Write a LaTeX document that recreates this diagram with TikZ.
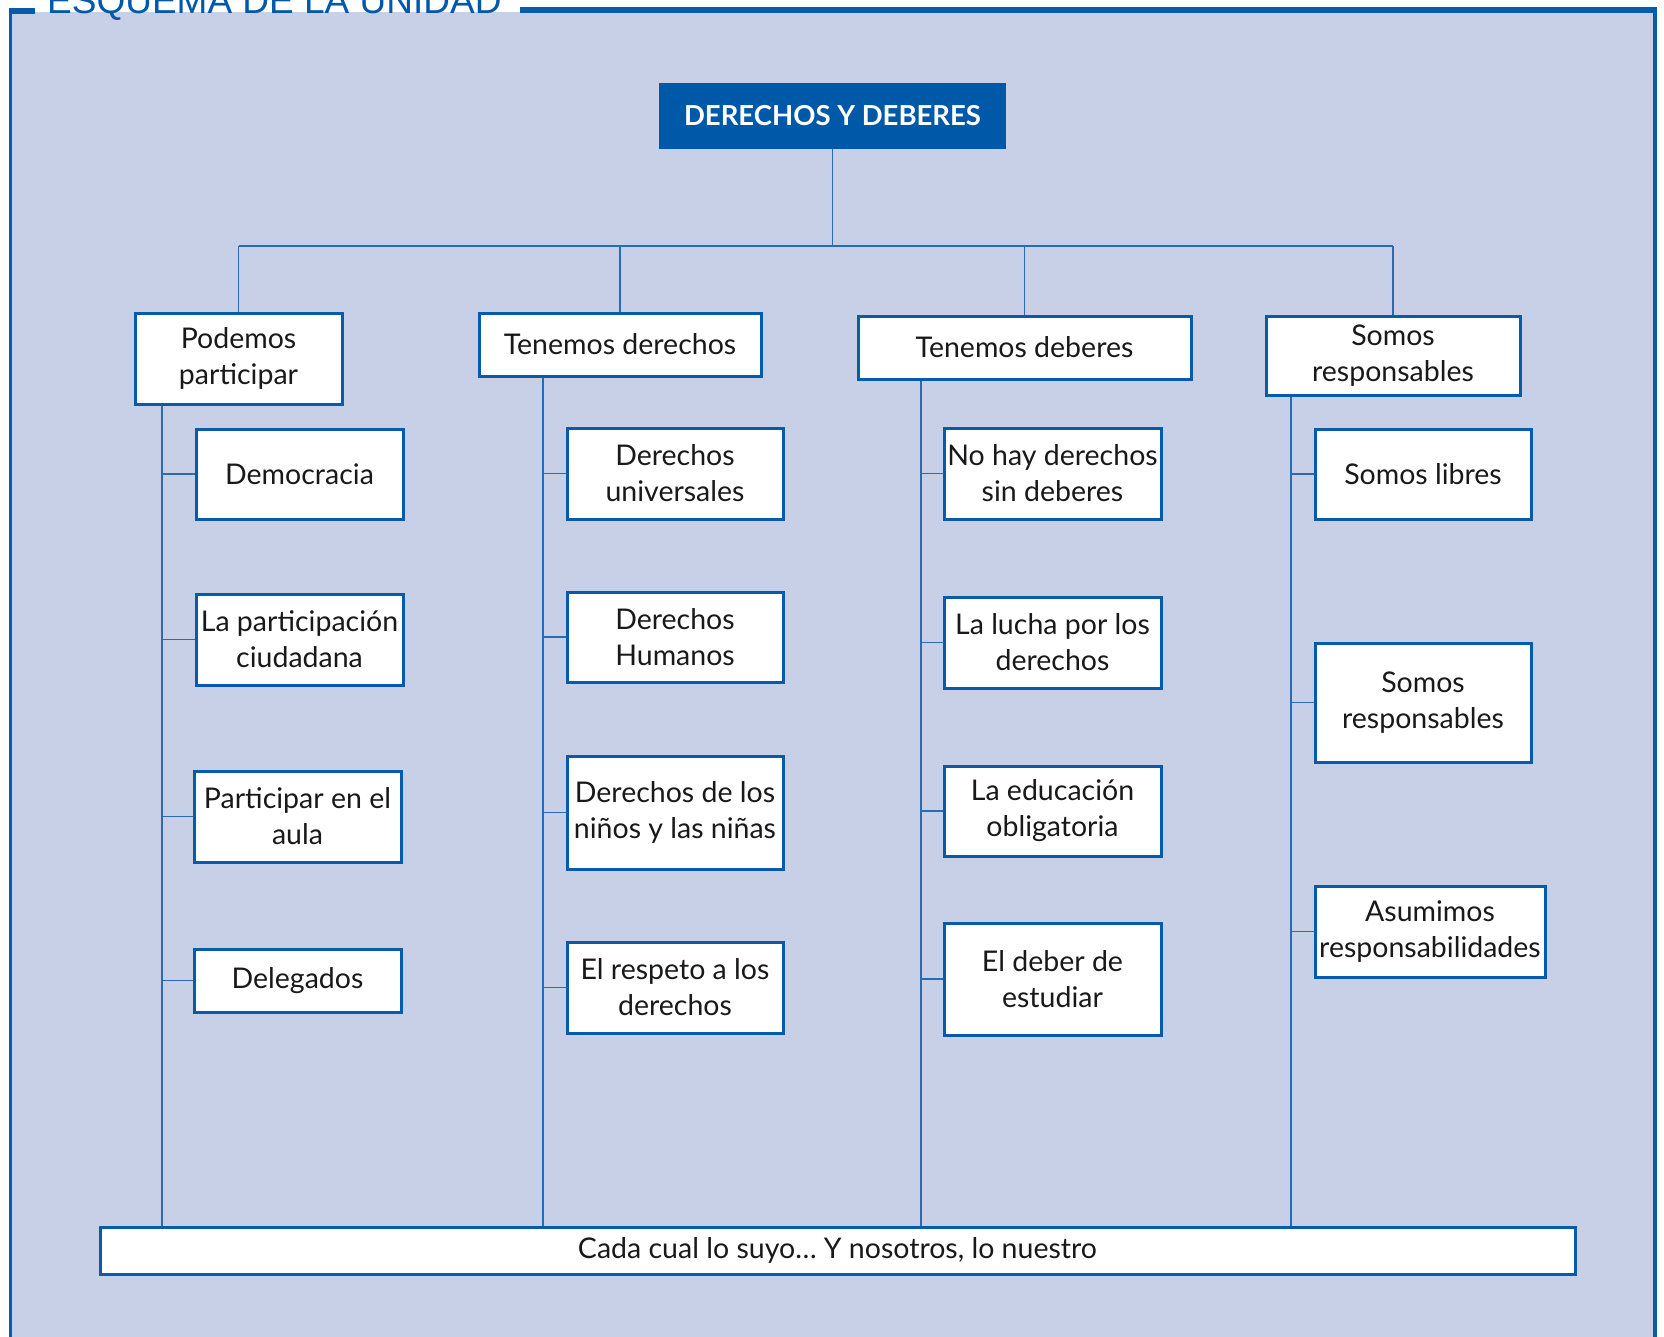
\documentclass[tikz,border=0pt]{standalone}
\usepackage{fontspec}
\setmainfont{Lato}
\newfontfamily\headfont{Liberation Sans}
\definecolor{lav}{RGB}{200,208,232}
\definecolor{bblue}{RGB}{8,90,170}
\definecolor{lblue}{RGB}{40,108,182}
\definecolor{tblue}{RGB}{0,89,168}
\begin{document}
\begin{tikzpicture}[x=1pt,y=-1pt,
  box/.style={draw=bblue, line width=3pt, fill=white, inner sep=0pt, align=center,
    font=\fontsize{28.5}{36}\selectfont, text=black!90},
  conn/.style={draw=lblue, line width=1.6pt},
  titlebox/.style={fill=tblue, inner sep=0pt, text=white, font=\bfseries\fontsize{27.5}{30}\selectfont}]
\useasboundingbox (0,0) rectangle (1664,1336);
\clip (0,0) rectangle (1664,1336);
% frame
\fill[lav] (10,12) rectangle (1655,1340);
\draw[bblue, line width=3.5pt] (10.5,8) -- (10.5,1340);
\draw[bblue, line width=4pt] (1655,8) -- (1655,1340);
\fill[bblue] (520,7) rectangle (1657,13);
\fill[bblue] (9,8) rectangle (35,14);
\node[anchor=base west, inner sep=0pt, text=tblue, font=\headfont\fontsize{37}{37}\selectfont] (head) at (47,13) {ESQUEMA DE LA UNIDAD};
% connector coordinates
\coordinate (bus) at (0,246);
\coordinate (sp1) at (162,0);
\coordinate (sp2) at (543,0);
\coordinate (sp3) at (921,0);
\coordinate (sp4) at (1291,0);
% title
\node[titlebox, minimum width=347, minimum height=66] (title) at (832.5,116) {DERECHOS Y DEBERES};
% level 1
\node[box, minimum width=207, minimum height=91] (h1) at (238.5,358.5) {Podemos\\participar};
\node[box, minimum width=282, minimum height=63] (h2) at (620,344.5) {Tenemos derechos};
\node[box, minimum width=333, minimum height=63] (h3) at (1024.5,347.5) {Tenemos deberes};
\node[box, minimum width=254, minimum height=79] (h4) at (1393,355.5) {Somos\\responsables};
% column 1
\node[box, minimum width=207, minimum height=90] (a1) at (299.5,474) {Democracia};
\node[box, minimum width=207, minimum height=91] (a2) at (299.5,639.5) {La participación\\ciudadana};
\node[box, minimum width=207, minimum height=91] (a3) at (297.5,816.5) {Participar en el\\aula};
\node[box, minimum width=207, minimum height=63] (a4) at (297.5,980.5) {Delegados};
% column 2
\node[box, minimum width=216, minimum height=91] (b1) at (675,473.5) {Derechos\\universales};
\node[box, minimum width=216, minimum height=90] (b2) at (675,637) {Derechos\\Humanos};
\node[box, minimum width=216, minimum height=113] (b3) at (675,812.5) {Derechos de los\\niños y las niñas};
\node[box, minimum width=216, minimum height=91] (b4) at (675,987.5) {El respeto a los\\derechos};
% column 3
\node[box, minimum width=217, minimum height=91] (c1) at (1052.5,473.5) {No hay derechos\\sin deberes};
\node[box, minimum width=217, minimum height=91] (c2) at (1052.5,642.5) {La lucha por los\\derechos};
\node[box, minimum width=217, minimum height=90] (c3) at (1052.5,811) {La educación\\obligatoria};
\node[box, minimum width=217, minimum height=112] (c4) at (1052.5,979) {El deber de\\estudiar};
% column 4
\node[box, minimum width=216, minimum height=90] (d1) at (1423,474) {Somos libres};
\node[box, minimum width=216, minimum height=119] (d2) at (1423,702.5) {Somos\\responsables};
\node[box, minimum width=230, minimum height=91] (d3) at (1430,931.5) {Asumimos\\responsabilidades};
% bottom
\node[box, minimum width=1475, minimum height=47] (bot) at (837.5,1250.5) {Cada cual lo suyo… Y nosotros, lo nuestro};
% connectors
\draw[conn] (title.south) -- (title.south |- bus);
\draw[conn] (h1.north |- bus) -- (h4.north |- bus);
\foreach \h in {h1,h2,h3,h4} {\draw[conn] (\h.north |- bus) -- (\h.north);}
\draw[conn] (h1.south -| sp1) -- (bot.north -| sp1);
\draw[conn] (h2.south -| sp2) -- (bot.north -| sp2);
\draw[conn] (h3.south -| sp3) -- (bot.north -| sp3);
\draw[conn] (h4.south -| sp4) -- (bot.north -| sp4);
\foreach \n in {a1,a2,a3,a4} {\draw[conn] (\n.west) -- (\n.west -| sp1);}
\foreach \n in {b1,b2,b3,b4} {\draw[conn] (\n.west) -- (\n.west -| sp2);}
\foreach \n in {c1,c2,c3,c4} {\draw[conn] (\n.west) -- (\n.west -| sp3);}
\foreach \n in {d1,d2,d3} {\draw[conn] (\n.west) -- (\n.west -| sp4);}
\end{tikzpicture}
\end{document}
